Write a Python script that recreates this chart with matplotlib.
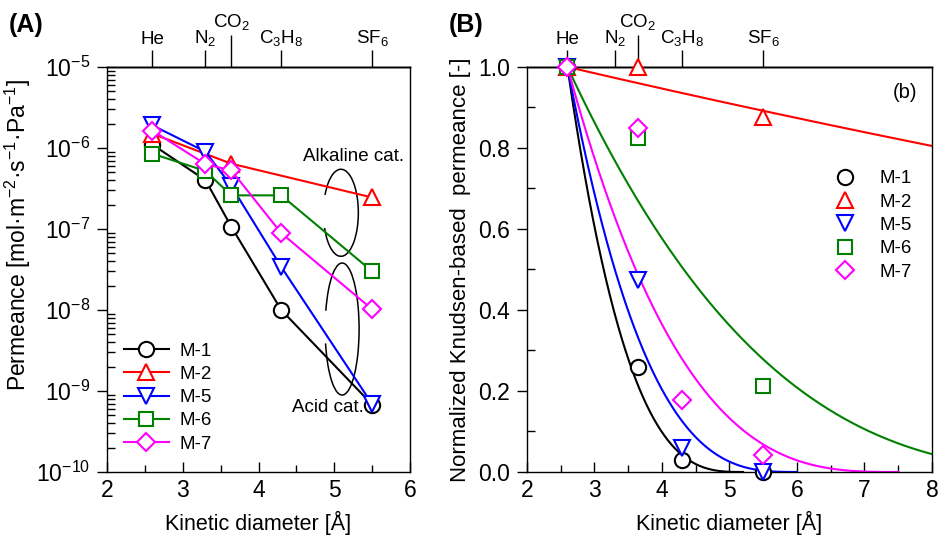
#!/bin/env python3

import numpy as np
import matplotlib
matplotlib.use('Agg')
import matplotlib.pyplot as plt
from matplotlib.patches import Arc
from matplotlib.lines import Line2D
from matplotlib.ticker import MultipleLocator, NullFormatter, LogLocator, FormatStrFormatter

# ---- data ----
names = ['M-1', 'M-2', 'M-5', 'M-6', 'M-7']
colors = ['black', 'red', 'blue', 'green', 'magenta']
markers = ['o', '^', 'v', 's', 'D']
msizes = [11, 12, 12, 10, 9.5]

# (A) permeance vs kinetic diameter
kd_a = {
    'M-1': [2.6, 3.3, 3.64, 4.3, 5.5],
    'M-2': [2.6, 3.64, 5.5],
    'M-5': [2.6, 3.3, 3.64, 4.3, 5.5],
    'M-6': [2.6, 3.3, 3.64, 4.3, 5.5],
    'M-7': [2.6, 3.3, 3.64, 4.3, 5.5],
}
perm_a = {
    'M-1': [1.1e-6, 4.0e-7, 1.07e-7, 1.0e-8, 6.8e-10],
    'M-2': [1.5e-6, 6.4e-7, 2.45e-7],
    'M-5': [1.9e-6, 9.0e-7, 3.4e-7, 3.4e-8, 6.9e-10],
    'M-6': [8.5e-7, 5.2e-7, 2.6e-7, 2.6e-7, 3.0e-8],
    'M-7': [1.64e-6, 6.3e-7, 5.3e-7, 8.9e-8, 1.02e-8],
}

# (B) normalized Knudsen-based permeance
kd_b = {
    'M-1': [2.6, 3.64, 4.3, 5.5],
    'M-2': [2.6, 3.64, 5.5],
    'M-5': [2.6, 3.64, 4.3, 5.5],
    'M-6': [2.6, 3.64, 5.5],
    'M-7': [2.6, 3.64, 4.3, 5.5],
}
nkp_b = {
    'M-1': [1.0, 0.26, 0.03, 0.0],
    'M-2': [1.0, 1.0, 0.877],
    'M-5': [1.0, 0.475, 0.058, 0.0],
    'M-6': [1.0, 0.824, 0.212],
    'M-7': [1.0, 0.85, 0.178, 0.042],
}
# fitted pore diameters [A] of the NKP model curves
pore_d = {'M-1': 5.2, 'M-2': 80.0, 'M-5': 6.0, 'M-6': 10.95, 'M-7': 7.5}
d_he = 2.6

gas_d = [2.6, 3.3, 4.3, 5.5]
gas_lbl = ['He', 'N$_2$', 'C$_3$H$_8$', 'SF$_6$']
co2_d = [3.64]
co2_lbl = ['CO$_2$']


def main():
    plt.rcParams['font.family'] = ['Liberation Sans', 'DejaVu Sans']
    plt.rcParams['mathtext.fontset'] = 'custom'
    plt.rcParams['mathtext.rm'] = 'Liberation Sans'
    plt.rcParams['mathtext.it'] = 'Liberation Sans:italic'
    plt.rcParams['mathtext.bf'] = 'Liberation Sans:bold'
    plt.rcParams['axes.linewidth'] = 1.0

    fig = plt.figure(figsize=(9.38, 5.35), dpi=100)
    axA = fig.add_axes([0.1141, 0.1178, 0.3230, 0.757])
    axB = fig.add_axes([0.5618, 0.1178, 0.4318, 0.757])

    # ---------- panel A ----------
    for n, c, m, ms in zip(names, colors, markers, msizes):
        axA.plot(kd_a[n], perm_a[n], color=c, marker=m, ms=ms, lw=1.5,
                 mfc='white', mec=c, mew=1.5, label=n, clip_on=False)
    axA.set_yscale('log')
    axA.set_xlim(2, 6)
    axA.set_ylim(1e-10, 1e-5)
    axA.yaxis.set_major_locator(LogLocator(base=10, numticks=10))
    axA.yaxis.set_minor_locator(LogLocator(base=10, subs=np.arange(2, 10), numticks=10))
    axA.yaxis.set_minor_formatter(NullFormatter())
    axA.xaxis.set_major_locator(MultipleLocator(1))
    axA.xaxis.set_minor_locator(MultipleLocator(0.5))
    axA.set_xlabel('Kinetic diameter [Å]', fontsize=15.5)
    axA.set_ylabel('Permeance [mol·m$^{-2}$·s$^{-1}$·Pa$^{-1}$]', fontsize=16.5)
    axA.yaxis.set_label_coords(-0.245, 0.585)
    axA.xaxis.set_label_coords(0.5, -0.095)

    axA.legend(loc='upper left', bbox_to_anchor=(0.055, 0.32), frameon=False,
               fontsize=13.5, handlelength=2.4, handletextpad=0.6,
               labelspacing=0.33, borderpad=0, borderaxespad=0)

    axA.text(0.815, 0.778, 'Alkaline cat.', transform=axA.transAxes,
             ha='center', va='center', fontsize=13.5)
    axA.text(0.729, 0.158, 'Acid cat.', transform=axA.transAxes,
             ha='center', va='center', fontsize=13.5)
    axA.add_patch(Arc((0.772, 0.64), 0.115, 0.215, theta1=-145, theta2=140,
                      transform=axA.transAxes, color='black', lw=1.1))
    axA.add_patch(Arc((0.776, 0.353), 0.112, 0.326, theta1=-147, theta2=140,
                      transform=axA.transAxes, color='black', lw=1.1))

    # ---------- panel B ----------
    for n, c in zip(names, colors):
        dp = pore_d[n]
        d = np.linspace(d_he, min(dp, 8.0), 300)
        axB.plot(d, ((dp - d) / (dp - d_he)) ** 3, color=c, lw=1.5)
    for n, c, m, ms in zip(names, colors, markers, msizes):
        axB.plot(kd_b[n], nkp_b[n], ls='none', marker=m, ms=ms, mfc='white',
                 mec=c, mew=1.5, clip_on=False, zorder=3)
    axB.set_xlim(2, 8)
    axB.set_ylim(0, 1)
    axB.xaxis.set_major_locator(MultipleLocator(1))
    axB.xaxis.set_minor_locator(MultipleLocator(0.5))
    axB.yaxis.set_major_locator(MultipleLocator(0.2))
    axB.yaxis.set_minor_locator(MultipleLocator(0.1))
    axB.yaxis.set_major_formatter(FormatStrFormatter('%.1f'))
    axB.set_xlabel('Kinetic diameter [Å]', fontsize=15.5)
    axB.set_ylabel('Normalized Knudsen-based  permeance [-]', fontsize=16)
    axB.yaxis.set_label_coords(-0.138, 0.5)
    axB.xaxis.set_label_coords(0.5, -0.095)

    handles = [Line2D([], [], ls='none', marker=m, ms=ms, mfc='white', mec=c, mew=1.5)
               for c, m, ms in zip(colors, markers, msizes)]
    axB.legend(handles, names, loc='upper left', bbox_to_anchor=(0.74, 0.745),
               frameon=False, fontsize=13.5, handlelength=2.0, handletextpad=0.8,
               labelspacing=0.33, borderpad=0, borderaxespad=0)
    axB.text(0.933, 0.938, '(b)', transform=axB.transAxes, ha='center',
             va='center', fontsize=14.5)

    # ---------- common tick styling + gas ticks on top ----------
    for ax in (axA, axB):
        ax.tick_params(axis='x', which='major', direction='in', length=7,
                       width=1.0, labelsize=16.5, pad=5, top=False)
        ax.tick_params(axis='x', which='minor', direction='in', length=5,
                       width=1.0, top=False)
        ax.tick_params(axis='y', which='major', direction='out', length=7,
                       width=1.0, labelsize=16.5, pad=5, right=False)
        ax.tick_params(axis='y', which='minor', direction='in', length=6,
                       width=1.0, right=False)

        sec = ax.secondary_xaxis('top')
        sec.set_xticks(gas_d, labels=gas_lbl)
        sec.tick_params(direction='out', length=12, width=1.0, labelsize=13.5, pad=2)
        sec2 = ax.secondary_xaxis('top')
        sec2.set_xticks(co2_d, labels=co2_lbl)
        sec2.tick_params(direction='out', length=23, width=1.0, labelsize=13.5, pad=2)

    fig.text(0.009, 0.953, '(A)', fontsize=18, fontweight='bold', va='center')
    fig.text(0.478, 0.953, '(B)', fontsize=18, fontweight='bold', va='center')

    fig.savefig('out.png', dpi=100)


if __name__ == '__main__':
    main()
